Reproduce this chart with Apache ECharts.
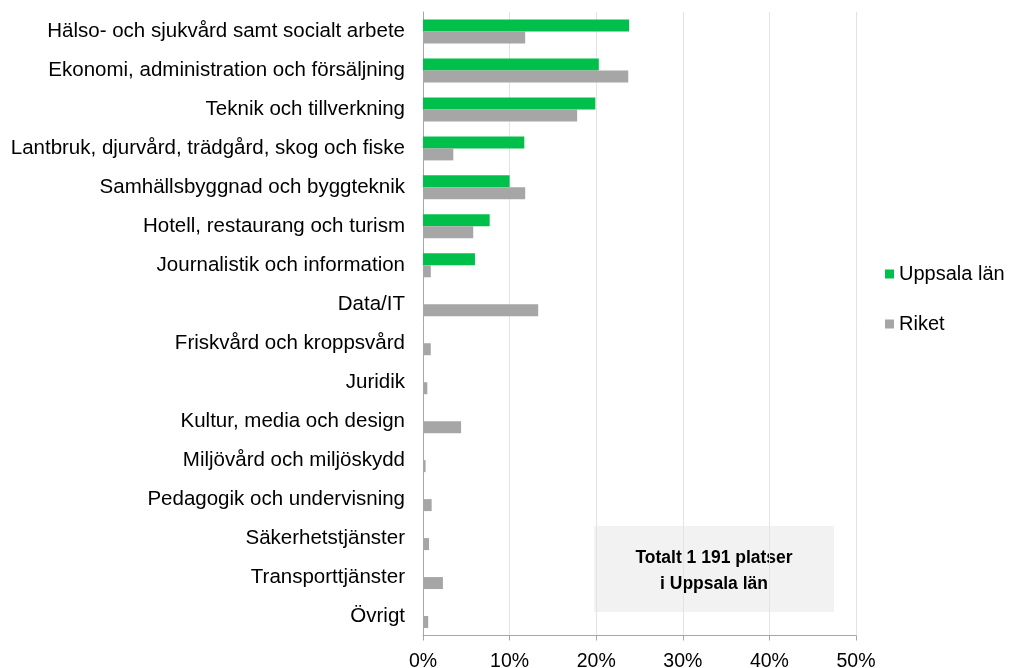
<!DOCTYPE html>
<html>
<head>
<meta charset="utf-8">
<script src="https://cdn.jsdelivr.net/npm/echarts@6/dist/echarts.min.js"></script>
<style>
html, body { margin: 0; padding: 0; background: #fff; }
#chart { width: 1011px; height: 668px; }
</style>
</head>
<body>
<div id="chart"></div>
<script>
// utbildningsområden
var categories = [
	"Hälso- och sjukvård samt socialt arbete",
	"Ekonomi, administration och försäljning",
	"Teknik och tillverkning",
	"Lantbruk, djurvård, trädgård, skog och fiske",
	"Samhällsbyggnad och byggteknik",
	"Hotell, restaurang och turism",
	"Journalistik och information",
	"Data/IT",
	"Friskvård och kroppsvård",
	"Juridik",
	"Kultur, media och design",
	"Miljövård och miljöskydd",
	"Pedagogik och undervisning",
	"Säkerhetstjänster",
	"Transporttjänster",
	"Övrigt"
];
// andel (%) av platserna
var uppsala = [23.8, 20.3, 19.9, 11.7, 10.0, 7.7, 6.0, 0, 0, 0, 0, 0, 0, 0, 0, 0];
var riket = [11.8, 23.7, 17.8, 3.5, 11.8, 5.8, 0.9, 13.3, 0.9, 0.5, 4.4, 0.3, 1.0, 0.7, 2.3, 0.6];
var xTicks = [0, 10, 20, 30, 40, 50];

var fontFam = "'Liberation Sans', Arial, sans-serif";
var myChart = echarts.init(document.getElementById("chart"));
var option = {
	animation : false,
	textStyle : { fontFamily : fontFam },
	grid : { left : 423, top : 12, right : 155, bottom : 32.5, outerBoundsMode : 'none', containLabel : false },
	legend : {
		orient : 'vertical',
		left : 880,
		top : 259,
		itemWidth : 9,
		itemHeight : 9,
		itemGap : 30,
		icon : 'rect',
		textStyle : { fontSize : 20, color : '#000', fontFamily : fontFam },
		data : ["Uppsala län", "Riket"]
	},
	xAxis : {
		type : 'value',
		min : xTicks[0],
		max : xTicks[xTicks.length - 1],
		interval : 10,
		axisLine : { show : true, lineStyle : { color : '#a6a6a6' } },
		axisTick : { show : true, length : 5, lineStyle : { color : '#a6a6a6' } },
		splitLine : { lineStyle : { color : '#e3e3e3' } },
		axisLabel : { fontSize : 19.5, color : '#000', margin : 16, formatter : '{value}%' }
	},
	yAxis : {
		type : 'category',
		inverse : true,
		data : categories,
		axisLine : { lineStyle : { color : '#a6a6a6' } },
		axisTick : { length : 5, lineStyle : { color : '#a6a6a6' } },
		axisLabel : { fontSize : 20.5, color : '#000', margin : 18 }
	},
	series : [
		{
			name : "Uppsala län",
			type : 'bar',
			barWidth : 12,
			barGap : '0%',
			itemStyle : { color : '#00c04b' },
			data : uppsala
		},
		{
			name : "Riket",
			type : 'bar',
			barWidth : 12,
			barGap : '0%',
			itemStyle : { color : '#a6a6a6' },
			data : riket
		}
	],
	graphic : [
		{
			type : 'rect',
			left : 594,
			top : 526,
			shape : { width : 240, height : 86 },
			style : { fill : '#f2f2f2' }
		},
		{
			type : 'text',
			x : 714,
			y : 571,
			style : {
				text : "Totalt 1 191 platser\ni Uppsala län",
				fill : '#000',
				font : "bold 17.5px " + fontFam,
				lineHeight : 26,
				align : 'center',
				verticalAlign : 'middle'
			}
		}
	]
};
myChart.setOption(option, true);
</script>
</body>
</html>
